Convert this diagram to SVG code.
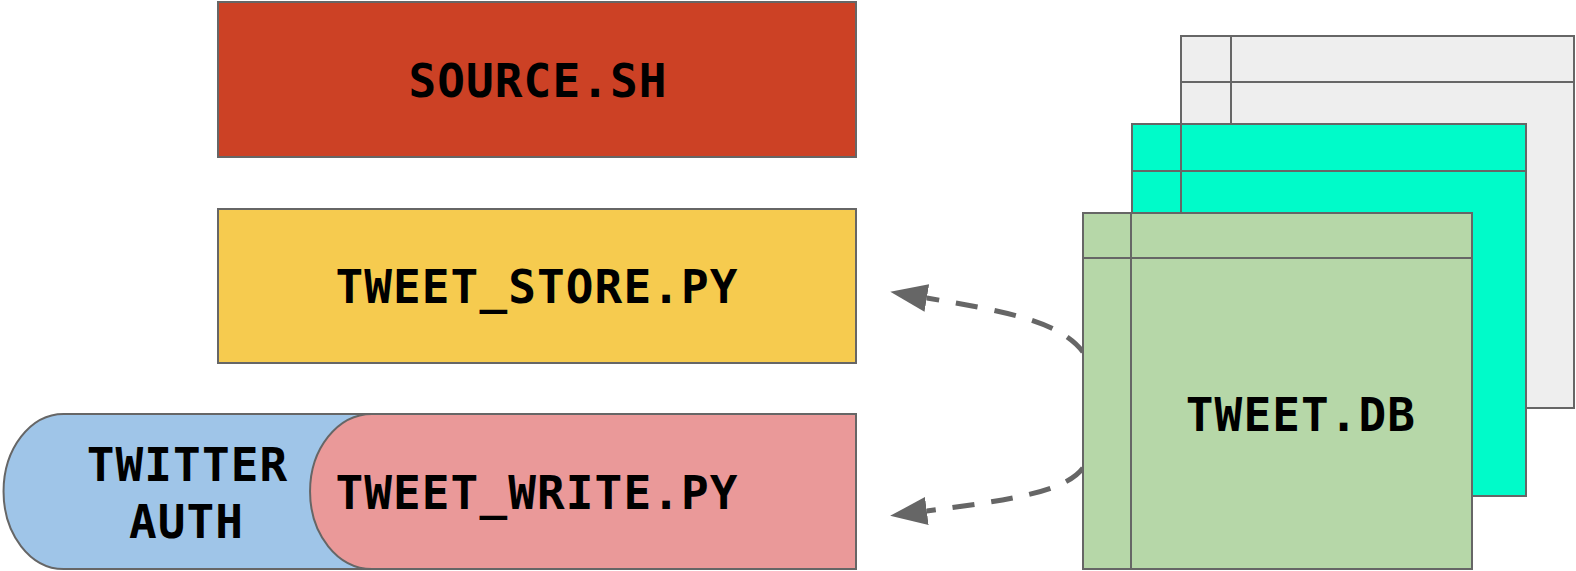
<svg xmlns="http://www.w3.org/2000/svg" width="1576" height="571" viewBox="0 0 1576 571">
  <style>
    .box { stroke: #666666; stroke-width: 2; }
    .grid { stroke: #666666; stroke-width: 2; fill: none; }
    .label { font-family: "DejaVu Sans Mono", "Liberation Mono", monospace; font-weight: bold; font-size: 46px; letter-spacing: 1.1px; fill: #000000; text-anchor: middle; }
    .flow { fill: none; stroke: #666666; stroke-width: 5; stroke-dasharray: 22 17; }
  </style>
  <defs>
    <marker id="head" markerUnits="userSpaceOnUse" markerWidth="40" markerHeight="32" viewBox="0 -16 40 32" refX="0" refY="0" orient="auto">
      <path d="M0,-14 L37,0 L0,14 Z" fill="#666666"/>
    </marker>
  </defs>

  <rect width="1576" height="571" fill="#ffffff"/>

  <!-- shell entry point -->
  <g id="source-sh">
    <rect class="box" x="218" y="2" width="638" height="155" fill="#CC4125"/>
    <text class="label" x="538" y="97">SOURCE.SH</text>
  </g>

  <!-- storage script -->
  <g id="tweet-store">
    <rect class="box" x="218" y="209" width="638" height="154" fill="#F6CB4F"/>
    <text class="label" x="537" y="303">TWEET_STORE.PY</text>
  </g>

  <!-- auth capsule sits under the writer script -->
  <g id="twitter-auth">
    <path class="box" d="M63.5,414 H400 V569 H63.5 A60,77.5 0 0 1 63.5,414 Z" fill="#9FC5E8"/>
    <text class="label" x="187.5" y="481">TWITTER</text>
    <text class="label" x="186.5" y="538">AUTH</text>
  </g>

  <!-- writer script -->
  <g id="tweet-write">
    <path class="box" d="M372,414 H856 V569 H372 A62,77.5 0 0 1 372,414 Z" fill="#EA9999"/>
    <text class="label" x="537" y="509">TWEET_WRITE.PY</text>
  </g>

  <!-- dashed flows out of the database -->
  <g id="connectors">
    <path class="flow" d="M1083,352 C1060,322 1010,312 926.8,298" marker-end="url(#head)"/>
    <path class="flow" d="M1083,468 C1065,492 1010,500 926.8,511" marker-end="url(#head)"/>
  </g>

  <!-- stacked table sheets -->
  <g id="tweet-db">
    <g id="sheet-back">
      <rect class="box" x="1181" y="36" width="393" height="372" fill="#EEEEEE"/>
      <path class="grid" d="M1231,36 V408 M1181,82 H1574"/>
    </g>
    <g id="sheet-middle">
      <rect class="box" x="1132" y="124" width="394" height="372" fill="#00FBC9"/>
      <path class="grid" d="M1181,124 V496 M1132,171 H1526"/>
    </g>
    <g id="sheet-front">
      <rect class="box" x="1083" y="213" width="389" height="356" fill="#B6D7A8"/>
      <path class="grid" d="M1131,213 V569 M1083,258 H1472"/>
      <text class="label" x="1301" y="431">TWEET.DB</text>
    </g>
  </g>
</svg>
